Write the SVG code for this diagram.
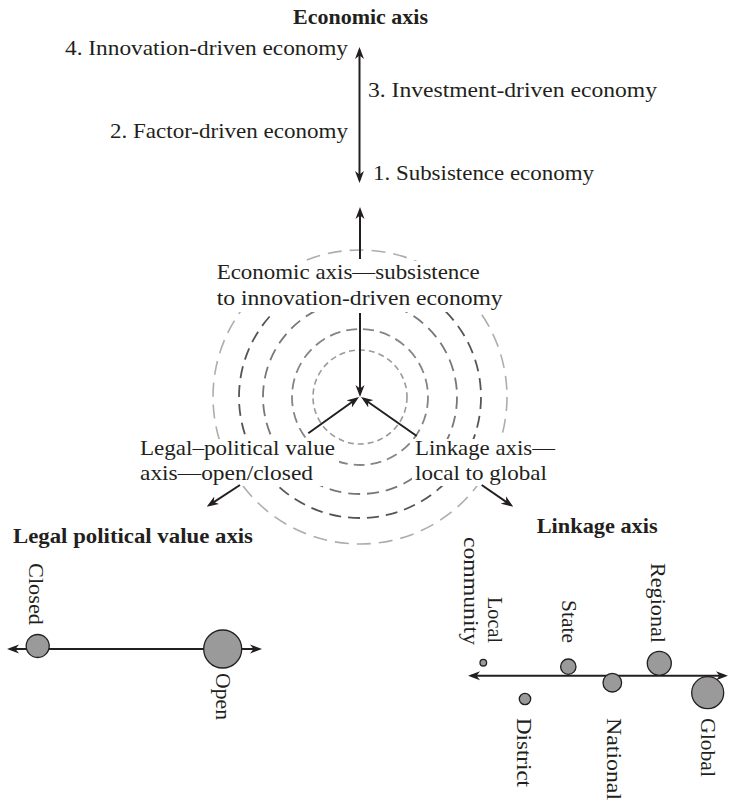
<svg xmlns="http://www.w3.org/2000/svg" width="729" height="801" viewBox="0 0 729 801">
<style>
  .t { font-family: "Liberation Serif", serif; font-size: 21px; fill: #231f20; }
  .b { font-family: "Liberation Serif", serif; font-size: 21px; font-weight: bold; fill: #231f20; }
  .ring { fill: none; }
  .conn { stroke: #231f20; stroke-width: 2; fill: none; }
  .dot { fill: #9a9a9a; stroke: #231f20; stroke-width: 1.3; }
  .mask { fill: #ffffff; }
</style>
<defs>
  <marker id="ah" viewBox="0 0 12 10" refX="9" refY="5" markerWidth="12" markerHeight="10" markerUnits="userSpaceOnUse" orient="auto-start-reverse">
    <path d="M0,0.5 L12,5 L0,9.5 L3.5,5 Z" fill="#231f20"/>
  </marker>
</defs>
<rect width="729" height="801" fill="#ffffff"/>

<g id="rings">
  <circle class="ring" cx="360" cy="397" r="147" stroke="#adadad" stroke-width="1.6" stroke-dasharray="14 8"/>
  <circle class="ring" cx="360" cy="397" r="121" stroke="#555555" stroke-width="1.8" stroke-dasharray="12 7"/>
  <circle class="ring" cx="360" cy="397" r="97" stroke="#777777" stroke-width="1.8" stroke-dasharray="12 7"/>
  <circle class="ring" cx="360" cy="397" r="68" stroke="#858585" stroke-width="1.8" stroke-dasharray="11 6"/>
  <circle class="ring" cx="360" cy="397" r="47" stroke="#9a9a9a" stroke-width="1.6" stroke-dasharray="6 4"/>
</g>

<g id="masks">
  <rect class="mask" x="212" y="261" width="296" height="51"/>
  <rect class="mask" x="137" y="439" width="202" height="47"/>
  <rect class="mask" x="412" y="439" width="146" height="47"/>
</g>

<g id="connectors">
  <line class="conn" x1="359.5" y1="50" x2="359.5" y2="180" marker-start="url(#ah)" marker-end="url(#ah)"/>
  <line class="conn" x1="360" y1="259" x2="360" y2="210" marker-end="url(#ah)"/>
  <line class="conn" x1="360" y1="313" x2="360" y2="394" marker-end="url(#ah)"/>
  <line class="conn" x1="308.3" y1="433.3" x2="356.6" y2="398.7" marker-end="url(#ah)"/>
  <line class="conn" x1="416.7" y1="436" x2="363.5" y2="398.7" marker-end="url(#ah)"/>
  <line class="conn" x1="240" y1="485" x2="209.2" y2="505.1" marker-end="url(#ah)"/>
  <line class="conn" x1="481.7" y1="485" x2="510.8" y2="505" marker-end="url(#ah)"/>
  <line class="conn" x1="10" y1="649" x2="259" y2="649" marker-start="url(#ah)" marker-end="url(#ah)"/>
  <line class="conn" x1="471" y1="675.7" x2="725" y2="675.7" marker-start="url(#ah)" marker-end="url(#ah)"/>
</g>

<g id="economic-axis">
  <text class="b" x="293" y="24" textLength="135" lengthAdjust="spacingAndGlyphs">Economic axis</text>
  <text class="t" x="65" y="55" textLength="283" lengthAdjust="spacingAndGlyphs">4. Innovation-driven economy</text>
  <text class="t" x="368" y="96.7" textLength="289" lengthAdjust="spacingAndGlyphs">3. Investment-driven economy</text>
  <text class="t" x="110" y="138" textLength="238" lengthAdjust="spacingAndGlyphs">2. Factor-driven economy</text>
  <text class="t" x="373" y="180" textLength="221" lengthAdjust="spacingAndGlyphs">1. Subsistence economy</text>
</g>

<g id="economic-label">
  <text class="t" x="216.7" y="279" textLength="263" lengthAdjust="spacingAndGlyphs">Economic axis—subsistence</text>
  <text class="t" x="216.7" y="305" textLength="286" lengthAdjust="spacingAndGlyphs">to innovation-driven economy</text>
</g>

<g id="legal-label">
  <text class="t" x="140" y="455" textLength="195" lengthAdjust="spacingAndGlyphs">Legal–political value</text>
  <text class="t" x="140" y="480" textLength="173" lengthAdjust="spacingAndGlyphs">axis—open/closed</text>
</g>

<g id="linkage-label">
  <text class="t" x="415" y="455" textLength="140" lengthAdjust="spacingAndGlyphs">Linkage axis—</text>
  <text class="t" x="415" y="480" textLength="132" lengthAdjust="spacingAndGlyphs">local to global</text>
</g>

<g id="legal-axis">
  <text class="b" x="13" y="543" textLength="240" lengthAdjust="spacingAndGlyphs">Legal political value axis</text>
  <circle class="dot" cx="37.7" cy="646" r="11.5"/>
  <circle class="dot" cx="222.7" cy="649" r="19"/>
  <text class="t" transform="translate(29,563) rotate(90)" x="0" y="0" textLength="62" lengthAdjust="spacingAndGlyphs">Closed</text>
  <text class="t" transform="translate(216,673) rotate(90)" x="0" y="0" textLength="47" lengthAdjust="spacingAndGlyphs">Open</text>
</g>

<g id="linkage-axis">
  <text class="b" x="536.7" y="533" textLength="121" lengthAdjust="spacingAndGlyphs">Linkage axis</text>
  <circle class="dot" cx="483.3" cy="662.7" r="3.3"/>
  <circle class="dot" cx="525" cy="699" r="5.7"/>
  <circle class="dot" cx="568.3" cy="666.7" r="7.7"/>
  <circle class="dot" cx="612.3" cy="682.7" r="9.3"/>
  <circle class="dot" cx="659.3" cy="663.3" r="12"/>
  <circle class="dot" cx="707.7" cy="692.7" r="16"/>
  <text class="t" transform="translate(463.5,537) rotate(90)" x="0" y="0" textLength="108" lengthAdjust="spacingAndGlyphs">community</text>
  <text class="t" transform="translate(488.3,597) rotate(90)" x="0" y="0" textLength="46" lengthAdjust="spacingAndGlyphs">Local</text>
  <text class="t" transform="translate(561.7,600) rotate(90)" x="0" y="0" textLength="43" lengthAdjust="spacingAndGlyphs">State</text>
  <text class="t" transform="translate(651,563) rotate(90)" x="0" y="0" textLength="80" lengthAdjust="spacingAndGlyphs">Regional</text>
  <text class="t" transform="translate(516.7,718) rotate(90)" x="0" y="0" textLength="69" lengthAdjust="spacingAndGlyphs">District</text>
  <text class="t" transform="translate(606.7,718) rotate(90)" x="0" y="0" textLength="82" lengthAdjust="spacingAndGlyphs">National</text>
  <text class="t" transform="translate(701,718) rotate(90)" x="0" y="0" textLength="59" lengthAdjust="spacingAndGlyphs">Global</text>
</g>
</svg>
